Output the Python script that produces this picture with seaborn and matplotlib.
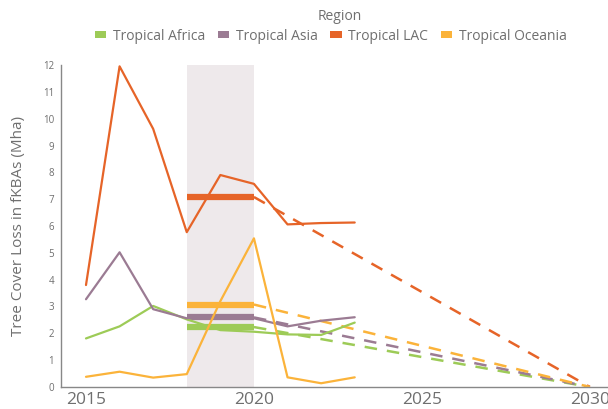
import matplotlib
matplotlib.use("Agg")
import matplotlib.pyplot as plt
from matplotlib.patches import Patch
import numpy as np
import pandas as pd
import seaborn as sns

# Annual tree cover loss in forest key biodiversity areas (Mha)
years = [2015, 2016, 2017, 2018, 2019, 2020, 2021, 2022, 2023]
regions = ["Tropical Africa", "Tropical Asia", "Tropical LAC", "Tropical Oceania"]
africa = [1.81, 2.26, 3.02, 2.52, 2.12, 2.06, 1.96, 1.94, 2.40]
asia = [3.27, 5.02, 2.90, 2.56, 2.66, 2.56, 2.26, 2.47, 2.60]
lac = [3.80, 11.95, 9.62, 5.77, 7.90, 7.57, 6.06, 6.11, 6.13]
oceania = [0.38, 0.57, 0.35, 0.48, 3.20, 5.54, 0.36, 0.14, 0.36]
colors = ["#9DCB57", "#9B7B93", "#E66428", "#FBB33A"]

baseline_years = [2018, 2020]
target_year = 2030

series = dict(zip(regions, [africa, asia, lac, oceania]))
df = pd.DataFrame(
    [(y, r, v) for r, vals in series.items() for y, v in zip(years, vals)],
    columns=["Year", "Region", "Loss"],
)

# Baseline = mean over 2018-2020, then a straight path to zero by 2030
base_rows, path_rows = [], []
for r, vals in series.items():
    sel = [v for y, v in zip(years, vals) if baseline_years[0] <= y <= baseline_years[1]]
    m = float(np.mean(sel))
    base_rows += [(baseline_years[0], r, m), (baseline_years[1], r, m)]
    path_rows += [(baseline_years[1], r, m), (target_year, r, 0.0)]
base = pd.DataFrame(base_rows, columns=["Year", "Region", "Loss"])
path = pd.DataFrame(path_rows, columns=["Year", "Region", "Loss"])

sns.set_style("white")
plt.rcParams["font.family"] = ["Open Sans", "DejaVu Sans"]
grey = "#6f6f6f"

fig = plt.figure(figsize=(6.08, 4.09), dpi=100)
ax = fig.add_axes([61 / 608, 22 / 409, 549 / 608, 322 / 409])

ax.axvspan(baseline_years[0], baseline_years[1], color="#EEE9EB", lw=0, zorder=0)

pal = dict(zip(regions, colors))
sns.lineplot(data=base, x="Year", y="Loss", hue="Region", palette=pal,
             lw=4.5, legend=False, ax=ax, zorder=2, solid_capstyle="butt")
sns.lineplot(data=path, x="Year", y="Loss", hue="Region", palette=pal,
             lw=1.8, legend=False, ax=ax, zorder=2, dashes=False)
for ln in ax.lines[-4:]:
    ln.set_dashes([5, 4])
sns.lineplot(data=df, x="Year", y="Loss", hue="Region", palette=pal,
             lw=1.6, legend=False, ax=ax, zorder=3)

ax.set_xlim(2014.256, 2030.6)
ax.set_ylim(0, 12)
ax.set_xticks([2015, 2020, 2025, 2030])
ax.set_yticks(range(0, 13))
ax.tick_params(axis="x", labelsize=12.5, colors=grey, length=3, width=0.8, pad=0.5)
ax.tick_params(axis="y", labelsize=7, colors=grey, length=3, width=0.8, pad=2)
ax.set_xlabel("")
ax.set_ylabel("Tree Cover Loss in fKBAs (Mha)", fontsize=11, color=grey, labelpad=12)
for s in ["top", "right"]:
    ax.spines[s].set_visible(False)
for s in ["left", "bottom"]:
    ax.spines[s].set_color("#888888")
    ax.spines[s].set_linewidth(1)

handles = [Patch(facecolor=c, edgecolor="none") for c in colors]
leg = fig.legend(handles, regions, ncol=4, loc="center",
                 bbox_to_anchor=(331 / 608, 1 - 36 / 409), frameon=False, fontsize=10,
                 handlelength=0.8, handleheight=0.45,
                 handletextpad=0.5, columnspacing=0.9, labelcolor=grey,
                 borderpad=0)
fig.text(340 / 608, 1 - 16 / 409, "Region", ha="center", va="center",
         fontsize=10, color=grey)

fig.savefig("out.png", dpi=100)
